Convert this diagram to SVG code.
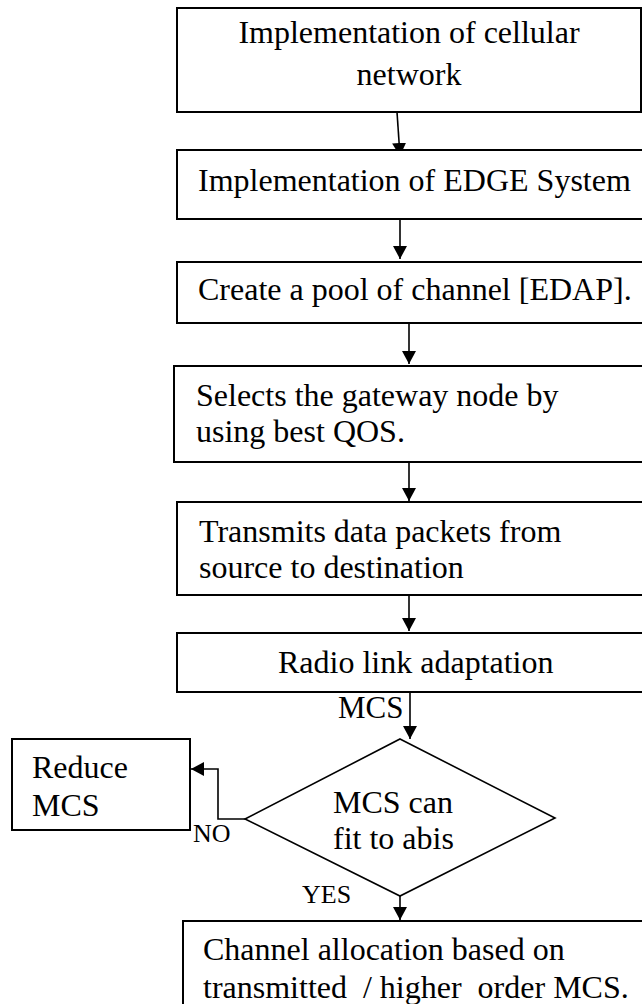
<svg xmlns="http://www.w3.org/2000/svg" width="642" height="1004" viewBox="0 0 642 1004">
  <style>
    .box { fill: #ffffff; stroke: #000000; stroke-width: 2; }
    .dia { fill: #ffffff; stroke: #000000; stroke-width: 1.6; }
    .lbl { font-family: "Liberation Serif", "Times New Roman", serif; font-size: 32px; fill: #000000; }
    .small { font-family: "Liberation Serif", "Times New Roman", serif; font-size: 26px; fill: #000000; }
    .conn { fill: none; stroke: #000000; stroke-width: 1.6; marker-end: url(#arrow); }
  </style>
  <defs>
    <marker id="arrow" markerUnits="userSpaceOnUse" markerWidth="14" markerHeight="14" refX="13" refY="7" orient="auto">
      <path d="M0,0 L13,7 L0,14 z" fill="#000000"/>
    </marker>
  </defs>
  <rect width="642" height="1004" fill="#ffffff"/>

  <g id="connectors">
    <line class="conn" x1="397" y1="112" x2="400" y2="156"/>
    <line class="conn" x1="400" y1="219" x2="400" y2="259"/>
    <line class="conn" x1="409" y1="323" x2="409" y2="364"/>
    <line class="conn" x1="409" y1="462" x2="409" y2="501"/>
    <line class="conn" x1="409" y1="595" x2="409" y2="631"/>
    <line class="conn" x1="410" y1="692" x2="410" y2="739"/>
    <polyline class="conn" points="245,819 218,819 218,769 191,769"/>
    <line class="conn" x1="400" y1="888" x2="400" y2="920"/>
  </g>

  <g id="cellular">
    <rect class="box" x="177" y="8" width="464" height="104"/>
    <text class="lbl" x="409" y="43" text-anchor="middle">Implementation of cellular</text>
    <text class="lbl" x="409" y="85" text-anchor="middle">network</text>
  </g>

  <g id="edge">
    <rect class="box" x="177" y="150" width="470" height="69"/>
    <text class="lbl" x="198" y="191">Implementation of EDGE System</text>
  </g>

  <g id="pool">
    <rect class="box" x="177" y="262" width="470" height="61"/>
    <text class="lbl" x="198" y="300">Create a pool of channel [EDAP].</text>
  </g>

  <g id="gateway">
    <rect class="box" x="174" y="366" width="473" height="96"/>
    <text class="lbl" x="196" y="406">Selects the gateway node by</text>
    <text class="lbl" x="196" y="442">using best QOS.</text>
  </g>

  <g id="transmit">
    <rect class="box" x="177" y="502" width="470" height="93"/>
    <text class="lbl" x="199" y="542">Transmits data packets from</text>
    <text class="lbl" x="199" y="578">source to destination</text>
  </g>

  <g id="radio">
    <rect class="box" x="177" y="633" width="470" height="59"/>
    <text class="lbl" x="278" y="673">Radio link adaptation</text>
  </g>

  <g id="mcs-label">
    <text class="lbl" x="338" y="718" style="font-size:31px">MCS</text>
  </g>

  <g id="decision">
    <polygon class="dia" points="400,739 555,818 400,896 245,819"/>
    <text class="lbl" x="333" y="813">MCS can</text>
    <text class="lbl" x="333" y="849">fit to abis</text>
  </g>

  <g id="reduce">
    <rect class="box" x="12" y="739" width="178" height="91"/>
    <text class="lbl" x="32" y="778">Reduce</text>
    <text class="lbl" x="32" y="816">MCS</text>
  </g>

  <g id="branch-labels">
    <text class="small" x="193" y="842">NO</text>
    <text class="small" x="302" y="903">YES</text>
  </g>

  <g id="allocation">
    <rect class="box" x="183" y="921" width="464" height="95"/>
    <text class="lbl" x="203" y="960">Channel allocation based on</text>
    <text class="lbl" x="203" y="998" xml:space="preserve">transmitted  / higher  order MCS.</text>
  </g>
</svg>
